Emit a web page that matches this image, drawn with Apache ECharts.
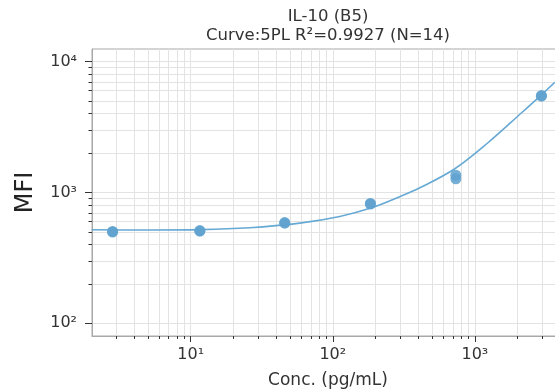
<!DOCTYPE html>
<html>
<head>
<meta charset="utf-8">
<script src="https://cdn.jsdelivr.net/npm/echarts@6/dist/echarts.min.js"></script>
<style>html,body{margin:0;padding:0;background:#fff}#c{width:555px;height:391px}</style>
</head>
<body>
<div id="c"></div>
<script>
// Measured standard points (concentration pg/mL, MFI)
const ptConc = [2.82, 2.82, 11.6, 11.6, 45.9, 45.9, 184, 184, 735, 735, 2940, 2940];
const ptMFI  = [498, 504, 506, 512, 583, 589, 815, 825, 1355, 1273, 5450, 5510];
// Fitted 5PL curve
const curveConc = [2.01, 5.14, 11.6, 26.0, 58.6, 112, 185, 296, 410, 723, 1236, 2144, 2917, 3656];
const curveMFI  = [519, 517, 520, 537, 583, 656, 760, 929, 1086, 1520, 2400, 4090, 5530, 6950];
// Axis ticks
const xMajor = [10, 100, 1000];
const xMajorLabels = ['10¹', '10²', '10³'];
const xMinor = [3,4,5,6,7,8,9,20,30,40,50,60,70,80,90,200,300,400,500,600,700,800,900,2000,3000,4000];
const yMajor = [100, 1000, 10000];
const yMajorLabels = ['10²', '10³', '10⁴'];
const yMinor = [200,300,400,500,600,700,800,900,2000,3000,4000,5000,6000,7000,8000,9000];

const X_MIN = 2.02, X_MAX = 4240, Y_MIN = 80, Y_MAX = 12500;
const FONT = 'DejaVu Sans';
const allX = xMajor.concat(xMinor).sort((a,b)=>a-b);
const allY = yMajor.concat(yMinor).sort((a,b)=>a-b);
const lab = (vals, labels) => v => { const i = vals.findIndex(t => Math.abs(t - v) / t < 1e-6); return i >= 0 ? labels[i] : ''; };

const chart = echarts.init(document.getElementById('c'), null, {renderer: 'canvas'});
const baseX = {type: 'log', min: X_MIN, max: X_MAX, position: 'bottom', gridIndex: 0};
const baseY = {type: 'log', min: Y_MIN, max: Y_MAX, position: 'left', gridIndex: 0};
chart.setOption({
  animation: false,
  textStyle: {fontFamily: FONT},
  title: {
    text: 'IL-10 (B5)\nCurve:5PL R²=0.9927 (N=14)',
    left: 323, top: 2, textAlign: 'center',
    textStyle: {fontFamily: FONT, fontSize: 16.5, fontWeight: 'normal', color: '#333', lineHeight: 19}
  },
  grid: {left: 92, top: 49, width: 472, height: 287, outerBoundsMode: 'none', containLabel: false,
         show: true, borderColor: '#a8a8a8', borderWidth: 1, backgroundColor: 'transparent'},
  xAxis: [
    Object.assign({}, baseX, {
      axisLine: {show: true, lineStyle: {color: '#a8a8a8', width: 1}},
      axisTick: {show: true, customValues: allX, length: 3, lineStyle: {color: '#333', width: 1}},
      axisLabel: {show: false},
      splitLine: {show: true, lineStyle: {color: '#e3e3e3', width: 1}}
    }),
    Object.assign({}, baseX, {
      name: 'Conc. (pg/mL)', nameLocation: 'middle', nameGap: 36,
      nameTextStyle: {fontFamily: FONT, fontSize: 17, color: '#333'},
      axisLine: {show: false},
      axisTick: {show: true, customValues: xMajor, length: 6, lineStyle: {color: '#333', width: 1}},
      axisLabel: {show: true, customValues: xMajor, formatter: lab(xMajor, xMajorLabels), margin: 11, fontFamily: FONT, fontSize: 16, color: '#333'},
      splitLine: {show: false}
    })
  ],
  yAxis: [
    Object.assign({}, baseY, {
      axisLine: {show: true, lineStyle: {color: '#a8a8a8', width: 1}},
      axisTick: {show: true, customValues: allY, length: 3.5, lineStyle: {color: '#333', width: 1}},
      axisLabel: {show: false},
      splitLine: {show: true, lineStyle: {color: '#e3e3e3', width: 1}}
    }),
    Object.assign({}, baseY, {
      name: 'MFI', nameLocation: 'middle', nameGap: 54, nameRotate: 90,
      nameTextStyle: {fontFamily: FONT, fontSize: 24, color: '#222'},
      axisLine: {show: false},
      axisTick: {show: true, customValues: yMajor, length: 7, lineStyle: {color: '#333', width: 1}},
      axisLabel: {show: true, customValues: yMajor, formatter: lab(yMajor, yMajorLabels), margin: 15, fontFamily: FONT, fontSize: 16, color: '#333'},
      splitLine: {show: false}
    })
  ],
  series: [
    {
      type: 'line', xAxisIndex: 0, yAxisIndex: 0,
      data: curveConc.map((c, i) => [c, curveMFI[i]]),
      showSymbol: false, smooth: 0.35, clip: true,
      lineStyle: {color: '#66a9d4', width: 1.6},
      z: 3
    },
    {
      type: 'scatter', xAxisIndex: 0, yAxisIndex: 0,
      data: ptConc.map((c, i) => [c, ptMFI[i]]),
      symbolSize: 11,
      itemStyle: {color: '#5fa2cf', opacity: 0.85},
      z: 4
    }
  ]
});
</script>
</body>
</html>
